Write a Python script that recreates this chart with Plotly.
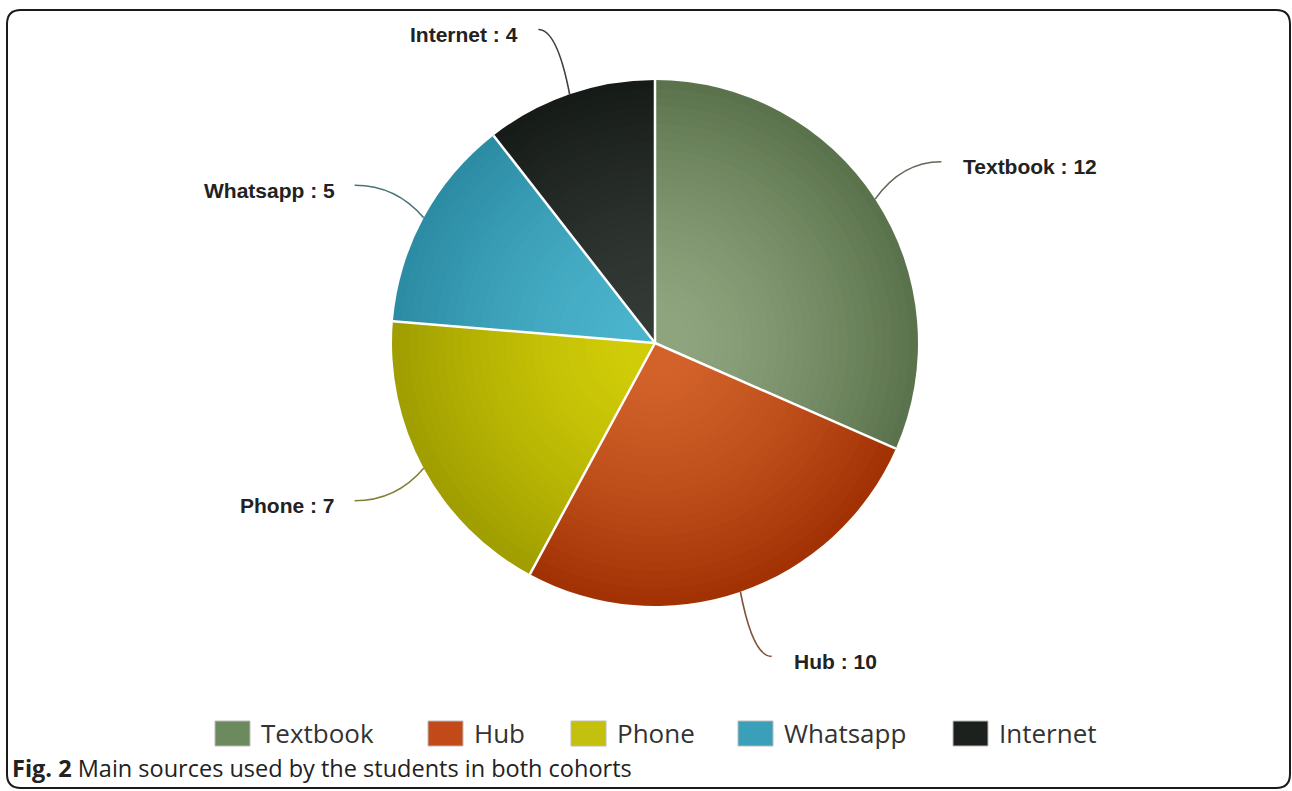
import math
import plotly.graph_objects as go

# ---------------- data ----------------
categories = ["Textbook", "Hub", "Phone", "Whatsapp", "Internet"]
values = [12, 10, 7, 5, 4]
caption_bold = "Fig. 2"
caption_text = "Main sources used by the students in both cohorts"

# ---------------- styles ----------------
light_colors = ["#8ea47e", "#d2622a", "#d0cc08", "#4ab4cc", "#333a35"]
dark_colors = ["#5b734c", "#a23204", "#a09e00", "#2c8ca4", "#161b17"]
legend_colors = ["#6d8a5f", "#c24a18", "#c4c10e", "#3a9fb8", "#1c211d"]
LEGEND_X = [215, 428, 571, 738, 953]

W, H = 1292, 791
CX, CY, R = 655, 343, 263


def px(x):
    return x / W


def py(y):
    return 1 - y / H


def mix(c1, c2, t):
    a = [int(c1[i:i + 2], 16) for i in (1, 3, 5)]
    b = [int(c2[i:i + 2], 16) for i in (1, 3, 5)]
    m = [round(a[j] + (b[j] - a[j]) * t) for j in range(3)]
    return "#%02x%02x%02x" % tuple(m)


fig = go.Figure()

# radial-gradient look: concentric pies from the same data
N = 30
for k in range(N):
    f = 1 - k / N
    r = R * f
    t = min(1.0, max(0.0, (f - 0.1) / 0.9)) ** 1.4
    cols = [mix(light_colors[i], dark_colors[i], t) for i in range(len(values))]
    fig.add_trace(go.Pie(
        labels=categories, values=values, sort=False, direction="clockwise",
        rotation=0, textinfo="none", hoverinfo="skip", showlegend=False,
        marker=dict(colors=cols, line=dict(width=0)),
        domain=dict(x=[px(CX - r), px(CX + r)], y=[py(CY + r), py(CY - r)]),
    ))

shapes = []
annotations = []
total = sum(values)
cum = 0
for i, v in enumerate(values):
    a0 = cum / total * 2 * math.pi
    cum += v
    a1 = cum / total * 2 * math.pi
    # white separator at slice start
    shapes.append(dict(type="line", xref="paper", yref="paper",
                       x0=px(CX), y0=py(CY),
                       x1=px(CX + R * math.sin(a0)), y1=py(CY - R * math.cos(a0)),
                       line=dict(color="white", width=2.5), layer="above"))
    am = (a0 + a1) / 2
    right = math.sin(am) >= 0
    sx, sy = CX + R * math.sin(am), CY - R * math.cos(am)
    ex, ey = CX + 1.26 * R * math.sin(am), CY - 1.26 * R * math.cos(am)
    lx = ex + (9 if right else -9)
    qx, qy = lx + 0.6 * (sx - lx), ey
    path = "M %f,%f Q %f,%f %f,%f" % (px(lx), py(ey), px(qx), py(qy), px(sx), py(sy))
    shapes.append(dict(type="path", xref="paper", yref="paper", path=path,
                       line=dict(color=mix(legend_colors[i], "#555555", 0.6), width=1.6),
                       layer="above"))
    annotations.append(dict(
        xref="paper", yref="paper",
        x=px(ex + (29 if right else -27)), y=py(ey + 5),
        xanchor="left" if right else "right", yanchor="middle",
        text="<b>%s : %d</b>" % (categories[i], v), showarrow=False,
        font=dict(family="Liberation Sans, Arial, sans-serif", size=21, color="#222222"),
    ))

# custom legend
for i, c in enumerate(categories):
    x0 = LEGEND_X[i]
    shapes.append(dict(type="rect", xref="paper", yref="paper",
                       x0=px(x0), x1=px(x0 + 35), y0=py(746), y1=py(721),
                       fillcolor=legend_colors[i], line=dict(color="#bbbbbb", width=1)))
    annotations.append(dict(
        xref="paper", yref="paper", x=px(x0 + 44), y=py(733),
        xanchor="left", yanchor="middle", text=c, showarrow=False,
        font=dict(family="Open Sans, sans-serif", size=26, color="#333333"),
    ))

# caption
annotations.append(dict(
    xref="paper", yref="paper", x=px(10), y=py(768), xanchor="left", yanchor="middle",
    text="<b>%s</b> %s" % (caption_bold, caption_text), showarrow=False,
    font=dict(family="Open Sans, sans-serif", size=23.5, color="#222222"),
))

# rounded frame
L, T, Rr, B, rad = 7, 10, 1290, 788, 14
frame = ("M %f,%f L %f,%f Q %f,%f %f,%f L %f,%f Q %f,%f %f,%f "
         "L %f,%f Q %f,%f %f,%f L %f,%f Q %f,%f %f,%f Z") % (
    px(L + rad), py(T), px(Rr - rad), py(T), px(Rr), py(T), px(Rr), py(T + rad),
    px(Rr), py(B - rad), px(Rr), py(B), px(Rr - rad), py(B),
    px(L + rad), py(B), px(L), py(B), px(L), py(B - rad),
    px(L), py(T + rad), px(L), py(T), px(L + rad), py(T))
shapes.append(dict(type="path", xref="paper", yref="paper", path=frame,
                   line=dict(color="#1a1a1a", width=2)))

fig.update_layout(
    width=W, height=H, margin=dict(l=0, r=0, t=0, b=0),
    paper_bgcolor="white", plot_bgcolor="white",
    shapes=shapes, annotations=annotations, showlegend=False,
)

fig.write_html("out.html")
